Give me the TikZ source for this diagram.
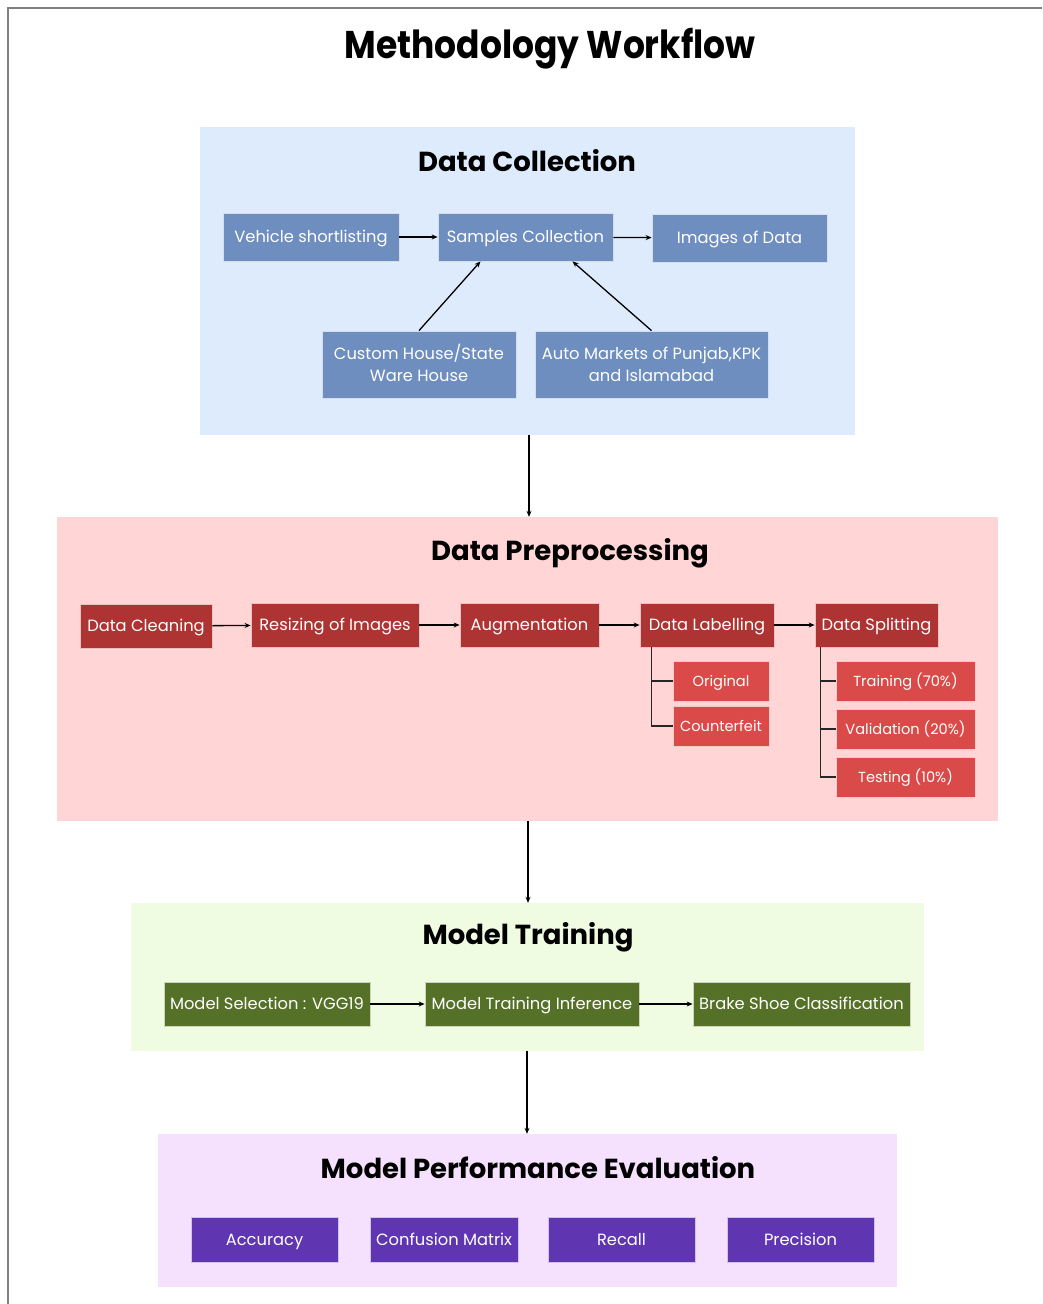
\documentclass[tikz,border=0pt]{standalone}
\usepackage{fontspec}
\setmainfont{Poppins}
\usetikzlibrary{arrows.meta}

\definecolor{dcbg}{HTML}{DDEBFD}
\definecolor{dcbox}{HTML}{6D8EBF}
\definecolor{dpbg}{HTML}{FFD5D5}
\definecolor{dpbox}{HTML}{AE3333}
\definecolor{dpsub}{HTML}{DA4A48}
\definecolor{mtbg}{HTML}{EFFCE1}
\definecolor{mtbox}{HTML}{557027}
\definecolor{pebg}{HTML}{F5E1FD}
\definecolor{pebox}{HTML}{6035B2}

\tikzset{
  panel/.style={fill=#1, draw=none, inner sep=0pt},
  panelhead/.style={font=\fontsize{27.5}{30}\selectfont\bfseries, text=black, anchor=base},
  item/.style={fill=#1, draw=white!70!#1, line width=0.8pt, text=white,
    inner sep=0pt, align=center, text height=11.6pt, text depth=0pt,
    font=\fontsize{16.3}{22.5}\selectfont},
  twoline/.style={text height=34.1pt},
  subitem/.style={item=#1, text height=10.3pt,
    font=\fontsize{14.6}{20}\selectfont},
  flow/.style={-{Stealth[length=6pt,width=5pt]}, line width=1.3pt, black},
  branch/.style={line width=1.3pt, black!85},
}

\begin{document}
\begin{tikzpicture}[x=1pt,y=-1pt]
\useasboundingbox (0,0) rectangle (1042,1304);
\fill[white] (0,0) rectangle (1042,1304);
% page frame
\draw[gray, line width=1.5pt] (8,1304) -- (8,8) -- (1042,8);

\node[font=\fontsize{34.5}{40}\selectfont\bfseries, anchor=base] (title) at (550,58)
  {\scalebox{1}[1.12]{Methodology Workflow}};

% ---------- Data Collection ----------
\node[panel=dcbg, minimum width=655pt, minimum height=308pt] (dc) at (527.5,281) {};
\node[panelhead] (dct) at (527,171) {Data Collection};
\node[item=dcbox, minimum width=176pt, minimum height=48pt] (vs) at (311,237) {Vehicle shortlisting};
\node[item=dcbox, minimum width=175pt, minimum height=48pt] (sc) at (525.5,237) {Samples Collection};
\node[item=dcbox, minimum width=175pt, minimum height=48pt] (img) at (739.5,238) {Images of Data};
\node[item=dcbox, twoline, minimum width=194pt, minimum height=67pt] (ch) at (419,364.5) {Custom House/State\\Ware House};
\node[item=dcbox, twoline, minimum width=233pt, minimum height=67pt] (am) at (651.5,364.5) {Auto Markets of Punjab,KPK\\and Islamabad};
\draw[flow] (vs) -- (sc);
\draw[flow] (sc) -- (img);
\draw[flow] (ch.north) -- ([xshift=-45pt]sc.south);
\draw[flow] (am.north) -- ([xshift=47pt]sc.south);

% ---------- Data Preprocessing ----------
\node[panel=dpbg, minimum width=941pt, minimum height=304pt] (dp) at (527.5,669) {};
\node[panelhead] (dpt) at (570,560) {Data Preprocessing};
\node[item=dpbox, minimum width=132pt, minimum height=44pt] (clean) at (146,626) {Data Cleaning};
\node[item=dpbox, minimum width=168pt, minimum height=44pt] (resz) at (335,625) {Resizing of Images};
\node[item=dpbox, minimum width=139pt, minimum height=44pt] (aug) at (529.5,625) {Augmentation};
\node[item=dpbox, minimum width=134pt, minimum height=44pt] (lab) at (707,625) {Data Labelling};
\node[item=dpbox, minimum width=123pt, minimum height=44pt] (spl) at (876.5,625) {Data Splitting};
\node[subitem=dpsub, minimum width=96pt, minimum height=40pt] (orig) at (721,681) {Original};
\node[subitem=dpsub, minimum width=96pt, minimum height=40pt] (cfeit) at (721,726) {Counterfeit};
\node[subitem=dpsub, minimum width=139pt, minimum height=40pt] (trn) at (905.5,681) {Training (70\%)};
\node[subitem=dpsub, minimum width=139pt, minimum height=40pt] (val) at (905.5,729) {Validation (20\%)};
\node[subitem=dpsub, minimum width=139pt, minimum height=40pt] (tst) at (905.5,777) {Testing (10\%)};
\draw[flow] (clean) -- (resz);
\draw[flow] (resz) -- (aug);
\draw[flow] (aug) -- (lab);
\draw[flow] (lab) -- (spl);
\draw[branch] ([xshift=12pt]lab.south west) |- (orig.west);
\draw[branch] ([xshift=12pt]lab.south west) |- (cfeit.west);
\draw[branch] ([xshift=6pt]spl.south west) |- (trn.west);
\draw[branch] ([xshift=6pt]spl.south west) |- (val.west);
\draw[branch] ([xshift=6pt]spl.south west) |- (tst.west);

% ---------- Model Training ----------
\node[panel=mtbg, minimum width=793pt, minimum height=148pt] (mt) at (527.5,977) {};
\node[panelhead] (mtt) at (528,944) {Model Training};
\node[item=mtbox, minimum width=206pt, minimum height=44pt] (sel) at (267,1004) {Model Selection : VGG19};
\node[item=mtbox, minimum width=214pt, minimum height=44pt] (inf) at (532,1004) {Model Training Inference};
\node[item=mtbox, minimum width=217pt, minimum height=44pt] (bsc) at (801.5,1004) {Brake Shoe Classification};
\draw[flow] (sel) -- (inf);
\draw[flow] (inf) -- (bsc);

% ---------- Model Performance Evaluation ----------
\node[panel=pebg, minimum width=739pt, minimum height=153pt] (pe) at (527.5,1210.5) {};
\node[panelhead] (pet) at (538,1178) {Model Performance Evaluation};
\node[item=pebox, minimum width=147pt, minimum height=45pt] (acc) at (264.5,1239.5) {Accuracy};
\node[item=pebox, minimum width=148pt, minimum height=45pt] (cm) at (444,1239.5) {Confusion Matrix};
\node[item=pebox, minimum width=147pt, minimum height=45pt] (rec) at (621.5,1239.5) {Recall};
\node[item=pebox, minimum width=147pt, minimum height=45pt] (prec) at (800.5,1239.5) {Precision};

% ---------- stage links ----------
\draw[flow] ([xshift=1.5pt]dc.south) -- ([xshift=1.5pt]dc.south |- dp.north);
\draw[flow] ([xshift=0.5pt]dp.south) -- ([xshift=0.5pt]dp.south |- mt.north);
\draw[flow] ([xshift=-0.5pt]mt.south) -- ([xshift=-0.5pt]mt.south |- pe.north);
\end{tikzpicture}
\end{document}
